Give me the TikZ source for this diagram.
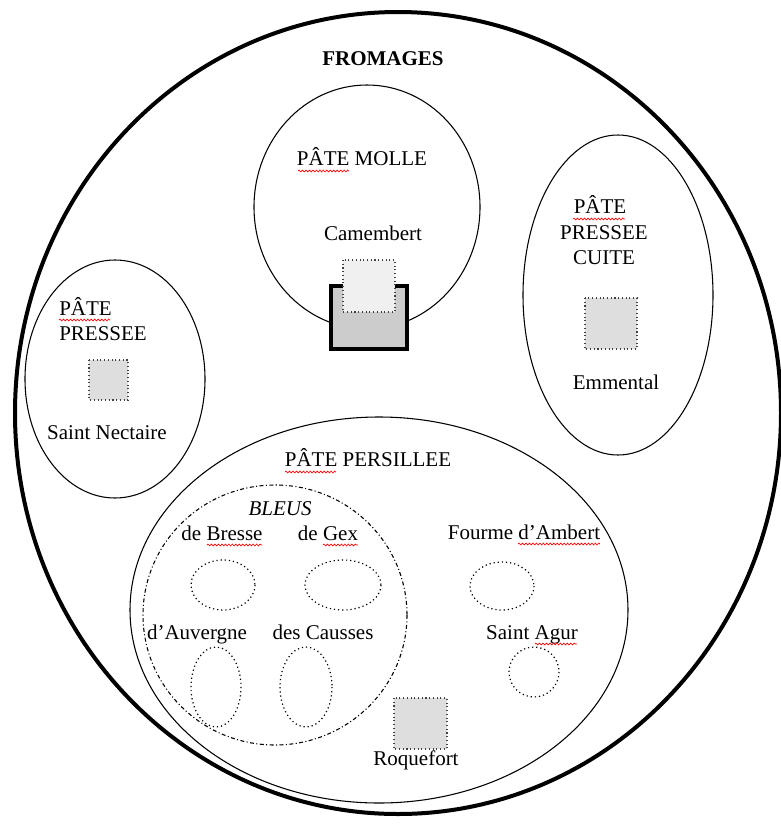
\documentclass[tikz,border=0pt]{standalone}
\usepackage{fontspec}
\setmainfont{Liberation Serif}
\usetikzlibrary{decorations.pathmorphing}
\begin{document}
\begin{tikzpicture}[x=0.75pt,y=-0.75pt,
  lbl/.style={inner sep=0pt, anchor=base, font=\fontsize{15.75}{19}\selectfont},
  grp/.style={draw=black, line width=0.8pt},
  sample/.style={draw=black!75, fill=black!13, dotted, line width=0.8pt},
  small/.style={draw=black, line width=0.9pt, dash pattern=on 0.9pt off 2.2pt},
  bleu/.style={draw=black, line width=0.8pt, dash pattern=on 3pt off 1.8pt on 0.8pt off 1.8pt},
  spell/.style={draw=red, line width=0.5pt, decorate, decoration={snake, amplitude=0.7pt, segment length=2.6pt}}]
\clip (0,0) rectangle (781,825);
\fill[white] (0,0) rectangle (781,825);

% outer set
\draw[line width=3pt] (398,413) ellipse [x radius=383, y radius=401];
\node[lbl, font=\fontsize{15.75}{19}\selectfont\bfseries] (fromages) at (383,65) {FROMAGES};

% pate molle
\draw[grp] (367,207) ellipse [x radius=113, y radius=122];
\node[lbl] (molle) at (362,165) {PÂTE MOLLE};
\node[lbl] (camembert) at (373,240) {Camembert};
\draw[line width=3pt, fill=black!20] (331,286) rectangle (407,349);
\draw[draw=black!75, fill=black!6, dotted, line width=0.8pt] (343,260) rectangle (395,312);

% pate pressee cuite
\draw[grp] (618,295) ellipse [x radius=95, y radius=160];
\node[lbl] (cuite1) at (600,213) {PÂTE};
\node[lbl] (cuite2) at (604,239) {PRESSEE};
\node[lbl] (cuite3) at (604,264) {CUITE};
\draw[sample] (585,298) rectangle (637,349);
\node[lbl] (emmental) at (616,389) {Emmental};

% pate pressee
\draw[grp] (115,379) ellipse [x radius=90, y radius=119];
\node[lbl, anchor=base west] (pressee1) at (59,315) {PÂTE};
\node[lbl, anchor=base west] (pressee2) at (59,340) {PRESSEE};
\draw[sample] (89,360) rectangle (128,400);
\node[lbl] (nectaire) at (107,439) {Saint Nectaire};

% pate persillee
\draw[grp] (379,610) ellipse [x radius=249, y radius=193];
\node[lbl] (persillee) at (368,466) {PÂTE PERSILLEE};

% bleus
\draw[bleu] (275,615) ellipse [x radius=132, y radius=130];
\node[lbl, font=\fontsize{15.75}{19}\selectfont\itshape] (bleus) at (280,515) {BLEUS};
\node[lbl] (bresse) at (222,540) {de Bresse};
\node[lbl] (gex) at (328,540) {de Gex};
\draw[small] (223,585) ellipse [x radius=32, y radius=25];
\draw[small] (343,585) ellipse [x radius=38, y radius=25];
\node[lbl] (auvergne) at (197,639) {d’Auvergne};
\node[lbl] (causses) at (323,639) {des Causses};
\draw[small] (216,687) ellipse [x radius=25, y radius=40];
\draw[small] (306,687) ellipse [x radius=26, y radius=40];

% other persillees
\node[lbl] (fourme) at (524,539) {Fourme d’Ambert};
\draw[small] (502,586) ellipse [x radius=32, y radius=24];
\node[lbl] (agur) at (532,639) {Saint Agur};
\draw[small] (534,672) ellipse [x radius=25, y radius=25];
\draw[sample] (394,698) rectangle (447,749);
\node[lbl] (roquefort) at (416,765) {Roquefort};

% spell-check underlines
\draw[spell] (298,171) -- (349,171);
\draw[spell] (573,219) -- (625,219);
\draw[spell] (59,320) -- (110,320);
\draw[spell] (285,472) -- (336,472);
\draw[spell] (207,545) -- (262,545);
\draw[spell] (323,545) -- (358,545);
\draw[spell] (518,544) -- (600,544);
\draw[spell] (535,644) -- (577,644);
\end{tikzpicture}
\end{document}
